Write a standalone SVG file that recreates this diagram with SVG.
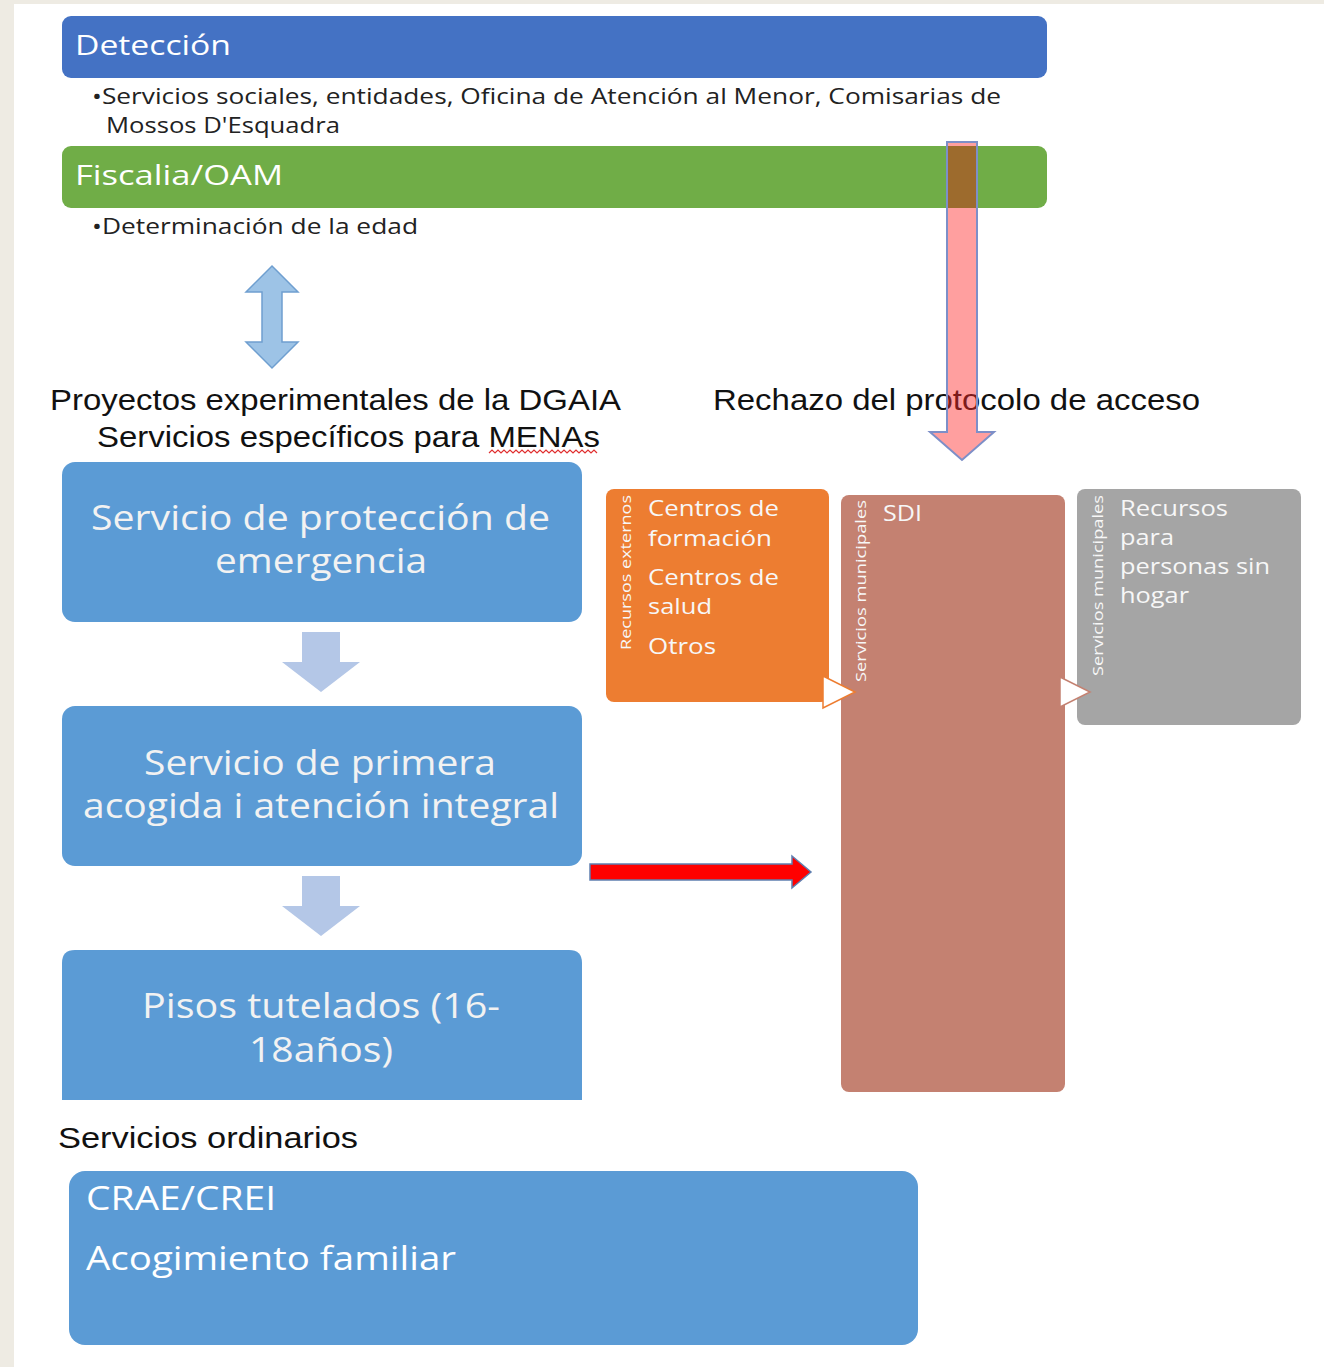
<svg xmlns="http://www.w3.org/2000/svg" width="1324" height="1367" viewBox="0 0 1324 1367">
<style>
text{lengthAdjust:spacingAndGlyphs}
.w{fill:#ffffff;font-family:"Open Sans",Lato,sans-serif}
.d{fill:#222222;font-family:"Open Sans",Lato,sans-serif}
.a{fill:#111111;font-family:"Liberation Sans",Arial,sans-serif}
.big{font-size:35px;fill:#f2f2f2;font-family:"Open Sans",Lato,sans-serif;text-anchor:middle}
.sm{font-size:21px;fill:#f7f7f7;font-family:"Open Sans",Lato,sans-serif}
.rot{font-size:15px;fill:#f7f7f7;font-family:"Open Sans",Lato,sans-serif}
</style>
<rect x="0" y="0" width="1324" height="1367" fill="#ffffff"/>
<rect x="0" y="0" width="14" height="1367" fill="#eeebe3"/>
<rect x="0" y="0" width="1324" height="4" fill="#eeebe3"/>

<g id="deteccion">
<rect x="62" y="16" width="985" height="62" rx="9" fill="#4472c4"/>
<text class="w" x="75" y="55" font-size="28" textLength="156" lengthAdjust="spacingAndGlyphs">Detección</text>
<text class="d" x="92" y="104" font-size="21" textLength="909" lengthAdjust="spacingAndGlyphs">•Servicios sociales, entidades, Oficina de Atención al Menor, Comisarias de</text>
<text class="d" x="106" y="133" font-size="21" textLength="234" lengthAdjust="spacingAndGlyphs">Mossos D'Esquadra</text>
</g>

<g id="fiscalia">
<rect x="62" y="146" width="985" height="62" rx="9" fill="#70ad47"/>
<text class="w" x="75" y="185" font-size="28" textLength="208" lengthAdjust="spacingAndGlyphs">Fiscalia/OAM</text>
<text class="d" x="92" y="234" font-size="21" textLength="326" lengthAdjust="spacingAndGlyphs">•Determinación de la edad</text>
</g>

<g id="proyectos">
<text class="a" x="50" y="410" font-size="30" textLength="571" lengthAdjust="spacingAndGlyphs">Proyectos experimentales de la DGAIA</text>
<text class="a" x="97" y="447" font-size="30" textLength="503" lengthAdjust="spacingAndGlyphs">Servicios específicos para MENAs</text>
<path d="M489,453 l3,-3 l3,3 l3,-3 l3,3 l3,-3 l3,3 l3,-3 l3,3 l3,-3 l3,3 l3,-3 l3,3 l3,-3 l3,3 l3,-3 l3,3 l3,-3 l3,3 l3,-3 l3,3 l3,-3 l3,3 l3,-3 l3,3 l3,-3 l3,3 l3,-3 l3,3 l3,-3 l3,3 l3,-3 l3,3 l3,-3 l3,3 l3,-3 l3,3" fill="none" stroke="#e03030" stroke-width="1.2"/>
</g>

<g id="rechazo">
<text class="a" x="713" y="410" font-size="30" textLength="487" lengthAdjust="spacingAndGlyphs">Rechazo del protocolo de acceso</text>
</g>

<g id="emergencia">
<rect x="62" y="462" width="520" height="160" rx="13" fill="#5b9bd5"/>
<text class="big" x="320.5" y="530" textLength="459" lengthAdjust="spacingAndGlyphs">Servicio de protección de</text>
<text class="big" x="321" y="573" textLength="212" lengthAdjust="spacingAndGlyphs">emergencia</text>
</g>

<g id="primera">
<rect x="62" y="706" width="520" height="160" rx="13" fill="#5b9bd5"/>
<text class="big" x="320" y="775" textLength="352" lengthAdjust="spacingAndGlyphs">Servicio de primera</text>
<text class="big" x="321" y="818" textLength="476" lengthAdjust="spacingAndGlyphs">acogida i atención integral</text>
</g>

<g id="pisos">
<path d="M75,950 H569 Q582,950 582,963 V1100 H62 V963 Q62,950 75,950 Z" fill="#5b9bd5"/>
<text class="big" x="321" y="1018" textLength="358" lengthAdjust="spacingAndGlyphs">Pisos tutelados (16-</text>
<text class="big" x="321" y="1062" textLength="144" lengthAdjust="spacingAndGlyphs">18años)</text>
</g>

<g id="ordinarios">
<text class="a" x="58" y="1148" font-size="30" textLength="300" lengthAdjust="spacingAndGlyphs">Servicios ordinarios</text>
<rect x="69" y="1171" width="849" height="174" rx="16" fill="#5b9bd5"/>
<text class="w" x="86" y="1210" font-size="33" fill="#f7f7f7" textLength="190" lengthAdjust="spacingAndGlyphs">CRAE/CREI</text>
<text class="w" x="86" y="1270" font-size="33" fill="#f7f7f7" textLength="370" lengthAdjust="spacingAndGlyphs">Acogimiento familiar</text>
</g>

<g id="externos">
<rect x="606" y="489" width="223" height="213" rx="8" fill="#ed7d31"/>
<text class="rot" transform="translate(631,650) rotate(-90)" textLength="155" lengthAdjust="spacingAndGlyphs">Recursos externos</text>
<text class="sm" x="648" y="516" textLength="131" lengthAdjust="spacingAndGlyphs">Centros de</text>
<text class="sm" x="648" y="546" textLength="124" lengthAdjust="spacingAndGlyphs">formación</text>
<text class="sm" x="648" y="585" textLength="131" lengthAdjust="spacingAndGlyphs">Centros de</text>
<text class="sm" x="648" y="614" textLength="64" lengthAdjust="spacingAndGlyphs">salud</text>
<text class="sm" x="648" y="654" textLength="68" lengthAdjust="spacingAndGlyphs">Otros</text>
</g>

<g id="sdi">
<rect x="841" y="495" width="224" height="597" rx="8" fill="#c48171"/>
<text class="rot" transform="translate(866,682) rotate(-90)" textLength="182" lengthAdjust="spacingAndGlyphs">Servicios municipales</text>
<text class="sm" x="883" y="521" font-size="20" textLength="39" lengthAdjust="spacingAndGlyphs">SDI</text>
</g>

<g id="sinhogar">
<rect x="1077" y="489" width="224" height="236" rx="8" fill="#a5a5a5"/>
<text class="rot" transform="translate(1103,676) rotate(-90)" textLength="181" lengthAdjust="spacingAndGlyphs">Servicios municipales</text>
<text class="sm" x="1120" y="516" textLength="108" lengthAdjust="spacingAndGlyphs">Recursos</text>
<text class="sm" x="1120" y="545" textLength="54" lengthAdjust="spacingAndGlyphs">para</text>
<text class="sm" x="1120" y="574" textLength="150" lengthAdjust="spacingAndGlyphs">personas sin</text>
<text class="sm" x="1120" y="603" textLength="69" lengthAdjust="spacingAndGlyphs">hogar</text>
</g>

<g id="connectors">
<path d="M272,266 L298,292 L282,292 L282,342 L298,342 L272,368 L246,342 L262,342 L262,292 L246,292 Z" fill="#9dc3e6" stroke="#6f9fd0" stroke-width="1.5"/>
<path d="M947,142 H977 V432 H994 L962,460 L930,432 H947 Z" fill="#ff2a2a" fill-opacity="0.45" stroke="#7d8fc8" stroke-width="2"/>
<rect x="948" y="146" width="28" height="62" fill="#9a6a2c" fill-opacity="0.85"/>
<path d="M302,632 H340 V662 H360 L321,692 L282,662 H302 Z" fill="#b4c7e7"/>
<path d="M302,876 H340 V906 H360 L321,936 L282,906 H302 Z" fill="#b4c7e7"/>
<path d="M590,864 H792 V856 L811,872 L792,888 V880 H590 Z" fill="#ff0000" stroke="#5f7fb0" stroke-width="1.5"/>
<path d="M823,676 L855,692 L823,708 Z" fill="#ffffff" stroke="#ed7d31" stroke-width="1.5"/>
<path d="M1060,677 L1090,692 L1060,707 Z" fill="#ffffff" stroke="#c48171" stroke-width="1.5"/>
</g>
</svg>
